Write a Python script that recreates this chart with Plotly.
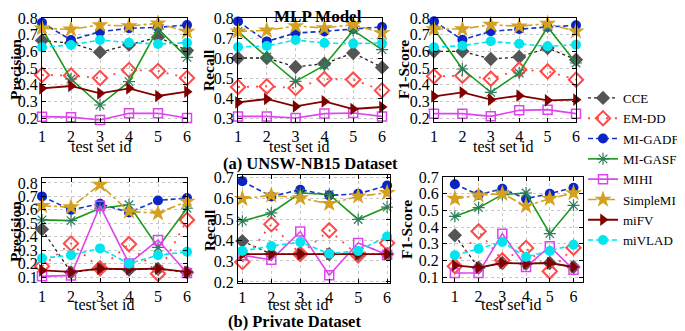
import plotly.graph_objects as go

test_ids = [1, 2, 3, 4, 5, 6]
methods = ["CCE", "EM-DD", "MI-GADF", "MI-GASF", "MIHI", "SimpleMI", "miFV", "miVLAD"]

# (a) UNSW-NB15 Dataset
unsw_precision = {
    "CCE":      [0.665, 0.650, 0.595, 0.640, 0.685, 0.605],
    "EM-DD":    [0.458, 0.455, 0.440, 0.488, 0.482, 0.440],
    "MI-GADF":  [0.772, 0.668, 0.718, 0.738, 0.744, 0.758],
    "MI-GASF":  [0.738, 0.434, 0.278, 0.418, 0.735, 0.564],
    "MIHI":     [0.208, 0.205, 0.188, 0.228, 0.228, 0.200],
    "SimpleMI": [0.738, 0.732, 0.758, 0.752, 0.768, 0.718],
    "miFV":     [0.378, 0.392, 0.348, 0.378, 0.332, 0.358],
    "miVLAD":   [0.624, 0.638, 0.668, 0.652, 0.644, 0.652],
}
unsw_recall = {
    "CCE":      [0.600, 0.600, 0.555, 0.572, 0.625, 0.553],
    "EM-DD":    [0.455, 0.458, 0.450, 0.495, 0.492, 0.438],
    "MI-GADF":  [0.783, 0.683, 0.725, 0.733, 0.745, 0.755],
    "MI-GASF":  [0.733, 0.605, 0.483, 0.563, 0.738, 0.642],
    "MIHI":     [0.308, 0.308, 0.300, 0.322, 0.325, 0.308],
    "SimpleMI": [0.733, 0.738, 0.760, 0.750, 0.767, 0.725],
    "miFV":     [0.378, 0.395, 0.358, 0.383, 0.345, 0.355],
    "miVLAD":   [0.655, 0.660, 0.690, 0.675, 0.672, 0.675],
}
unsw_f1 = {
    "CCE":      [0.600, 0.600, 0.554, 0.566, 0.620, 0.550],
    "EM-DD":    [0.450, 0.454, 0.436, 0.490, 0.480, 0.430],
    "MI-GADF":  [0.780, 0.670, 0.720, 0.734, 0.746, 0.756],
    "MI-GASF":  [0.734, 0.494, 0.354, 0.470, 0.746, 0.530],
    "MIHI":     [0.226, 0.226, 0.210, 0.246, 0.250, 0.226],
    "SimpleMI": [0.734, 0.734, 0.760, 0.750, 0.766, 0.720],
    "miFV":     [0.330, 0.354, 0.310, 0.334, 0.306, 0.310],
    "miVLAD":   [0.624, 0.634, 0.660, 0.646, 0.630, 0.640],
}

# (b) Private Dataset
priv_precision = {
    "CCE":      [0.455, 0.135, 0.160, 0.155, 0.160, 0.135],
    "EM-DD":    [0.180, 0.350, 0.165, 0.345, 0.125, 0.525],
    "MI-GADF":  [0.700, 0.600, 0.645, 0.580, 0.670, 0.688],
    "MI-GASF":  [0.525, 0.520, 0.612, 0.638, 0.320, 0.612],
    "MIHI":     [0.105, 0.112, 0.630, 0.200, 0.375, 0.130],
    "SimpleMI": [0.630, 0.620, 0.788, 0.588, 0.575, 0.662],
    "miFV":     [0.150, 0.138, 0.163, 0.158, 0.163, 0.138],
    "miVLAD":   [0.240, 0.263, 0.313, 0.200, 0.263, 0.288],
}
priv_recall = {
    "CCE":      [0.395, 0.333, 0.333, 0.333, 0.333, 0.333],
    "EM-DD":    [0.295, 0.475, 0.333, 0.446, 0.327, 0.386],
    "MI-GADF":  [0.680, 0.608, 0.640, 0.613, 0.620, 0.660],
    "MI-GASF":  [0.490, 0.529, 0.624, 0.617, 0.498, 0.557],
    "MIHI":     [0.327, 0.306, 0.440, 0.232, 0.386, 0.330],
    "SimpleMI": [0.597, 0.613, 0.600, 0.573, 0.608, 0.625],
    "miFV":     [0.333, 0.333, 0.333, 0.333, 0.333, 0.333],
    "miVLAD":   [0.348, 0.371, 0.390, 0.335, 0.348, 0.417],
}
priv_f1 = {
    "CCE":      [0.350, 0.156, 0.184, 0.180, 0.184, 0.160],
    "EM-DD":    [0.165, 0.374, 0.200, 0.274, 0.134, 0.276],
    "MI-GADF":  [0.656, 0.594, 0.630, 0.570, 0.600, 0.636],
    "MI-GASF":  [0.464, 0.516, 0.594, 0.604, 0.360, 0.530],
    "MIHI":     [0.124, 0.124, 0.360, 0.160, 0.284, 0.144],
    "SimpleMI": [0.570, 0.590, 0.600, 0.526, 0.570, 0.604],
    "miFV":     [0.170, 0.156, 0.184, 0.180, 0.184, 0.160],
    "miVLAD":   [0.230, 0.270, 0.310, 0.220, 0.256, 0.294],
}

W, H = 685, 331
OFF = 8  # page body margin: figure starts 8px right/down of the window corner
SERIF = "Liberation Serif"

def fx(p):
    return (p - OFF) / W

def fy(p):
    return 1 - (p - OFF) / H

styles = {
    "CCE":      dict(line=dict(color="#222222", width=1.3, dash="dot"),
                     marker=dict(symbol="diamond", size=11, color="#555555")),
    "EM-DD":    dict(line=dict(color="#ff4a4a", width=1.8, dash="2px,7px"),
                     marker=dict(symbol="diamond-open", size=11, color="#ff4a4a",
                                 line=dict(color="#ff4a4a", width=2))),
    "MI-GADF":  dict(line=dict(color="#1133cc", width=1.6, dash="5px,3px"),
                     marker=dict(symbol="circle", size=10, color="#0a24c8")),
    "MI-GASF":  dict(line=dict(color="#1a9a1a", width=1.6),
                     marker=dict(symbol="asterisk-open", size=10, color="#2e7d5a",
                                 line=dict(color="#2e7d5a", width=1.2))),
    "MIHI":     dict(line=dict(color="#dd44ee", width=1.6),
                     marker=dict(symbol="square-open", size=9, color="#dd44ee",
                                 line=dict(color="#dd44ee", width=1.5))),
    "SimpleMI": dict(line=dict(color="#d4a020", width=1.6, dash="dashdot"),
                     marker=dict(symbol="star", size=13, color="#d4a020")),
    "miFV":     dict(line=dict(color="#800000", width=1.8),
                     marker=dict(symbol="triangle-right", size=11, color="#800000")),
    "miVLAD":   dict(line=dict(color="#00e5ee", width=1.6, dash="5px,3px"),
                     marker=dict(symbol="circle", size=10, color="#00e5ee")),
}

# panel: data, x-domain px, y-domain px (top,bottom), x-range, y-range, y ticks
panels = [
    (unsw_precision, (42, 187), (18, 122), [1, 6], [0.176, 0.8], [0.2, 0.3, 0.4, 0.5, 0.6, 0.7, 0.8]),
    (unsw_recall,    (238, 382), (18, 122), [1, 6], [0.28, 0.8], [0.3, 0.4, 0.5, 0.6, 0.7, 0.8]),
    (unsw_f1,        (434, 576), (18, 122), [1, 6], [0.176, 0.8], [0.2, 0.3, 0.4, 0.5, 0.6, 0.7, 0.8]),
    (priv_precision, (42, 187), (178, 282), [1, 6], [0.063, 0.837], [0.1, 0.2, 0.3, 0.4, 0.5, 0.6, 0.7, 0.8]),
    (priv_recall,    (238, 390), (175, 283), [0.85, 6.1], [0.195, 0.71], [0.2, 0.3, 0.4, 0.5, 0.6, 0.7]),
    (priv_f1,        (443, 583), (177, 282), [0.5, 6.4], [0.07, 0.70], [0.1, 0.2, 0.3, 0.4, 0.5, 0.6, 0.7]),
]

fig = go.Figure()
layout = dict(width=W, height=H, margin=dict(l=0, r=0, t=0, b=0, autoexpand=False),
              plot_bgcolor="white", paper_bgcolor="white",
              font=dict(family=SERIF, size=16, color="black"))

for i, (data, xd, yd, xr, yr, yt) in enumerate(panels):
    n = "" if i == 0 else str(i + 1)
    ax_common = dict(showline=True, linecolor="black", linewidth=1, mirror="ticks",
                     ticks="inside", ticklen=4, tickcolor="black",
                     showgrid=True, gridcolor="#c8c8c8", griddash="dot", gridwidth=1,
                     zeroline=False, tickfont=dict(family=SERIF, size=16),
                     automargin=False)
    layout["xaxis" + n] = dict(ax_common, domain=[fx(xd[0]), fx(xd[1])], range=xr,
                               tickvals=test_ids, anchor="y" + n)
    layout["yaxis" + n] = dict(ax_common, domain=[fy(yd[1]), fy(yd[0])], range=yr,
                               tickvals=yt, tickformat=".1f", anchor="x" + n)
    for k, m in enumerate(methods):
        st = styles[m]
        fig.add_trace(go.Scatter(
            x=test_ids, y=data[m], mode="lines+markers", name=m,
            line=st["line"], marker=st["marker"], cliponaxis=False,
            xaxis="x" + n, yaxis="y" + n,
            showlegend=(i == 0), legend=("legend" if k == 0 else "legend%d" % (k + 1)),
        ))

# one legend per method, stacked in a column at the right
for k, m in enumerate(methods):
    key = "legend" if k == 0 else "legend%d" % (k + 1)
    ycen = 98 + k * 20.3
    layout[key] = dict(x=fx(583), y=fy(ycen), xanchor="left", yanchor="middle",
                       bgcolor="rgba(0,0,0,0)", borderwidth=0, itemwidth=30,
                       font=dict(family=SERIF, size=13, color="black"))

ann = []
def text(x, y, s, size=16, bold=False, angle=0):
    ann.append(dict(x=fx(x), y=fy(y), xref="paper", yref="paper", showarrow=False,
                    text=("<b>%s</b>" % s) if bold else s, textangle=angle,
                    font=dict(family=SERIF, size=size, color="black"),
                    xanchor="center", yanchor="middle"))

text(318, 17, "MLP Model", 17, True)
text(310, 163, "(a) UNSW-NB15 Dataset", 16.5, True)
text(294, 321, "(b) Private Dataset", 16.5, True)
for (xc, yc, s) in [(15, 70, "Precision"), (208, 70, "Recall"), (403, 70, "F1-Score"),
                    (15, 232, "Precision"), (209, 230, "Recall"), (406, 230, "F1-Score")]:
    text(xc, yc, s, 15.5, True, -90)
for (xc, yc) in [(101, 147), (299, 147), (503, 147), (104, 304), (298, 304), (511, 304)]:
    text(xc, yc, "test set id", 16)

layout["annotations"] = ann
fig.update_layout(**layout)
fig.write_html("out.html")
